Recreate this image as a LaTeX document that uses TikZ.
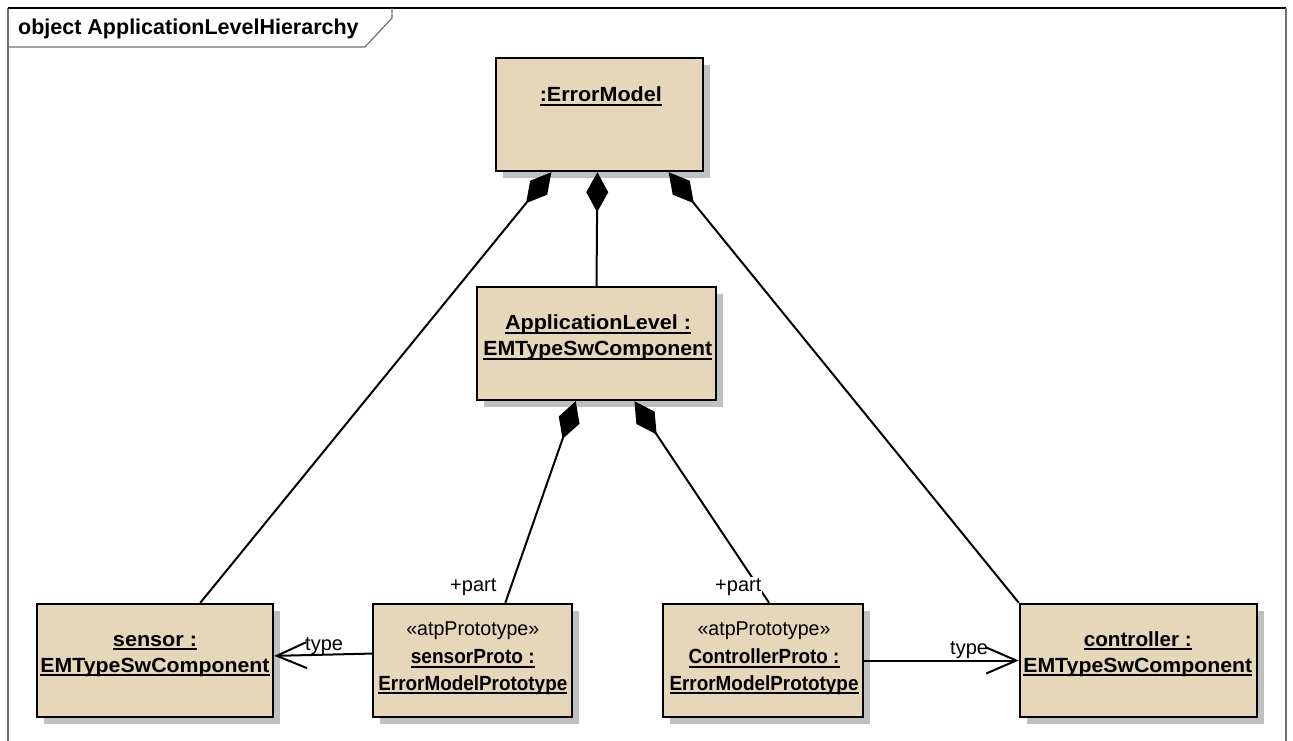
\documentclass[tikz,border=0pt]{standalone}
\usepackage{fontspec}
\usepackage{graphicx}
\setmainfont{Liberation Sans}
\usetikzlibrary{arrows.meta,calc,shadows}

\definecolor{objfill}{HTML}{E6D6BA}
\definecolor{shadowgray}{HTML}{C0C0C0}
\definecolor{framegray}{HTML}{707070}

% fonts for object names, relation labels and the frame title
\newcommand\objfont{\fontsize{20.5pt}{24pt}\selectfont\bfseries}
\newcommand\relfont{\fontsize{20pt}{24pt}\selectfont}
\newcommand\framefont{\fontsize{21.5pt}{25pt}\selectfont\bfseries}
% set a text to a given width, keeping its height
\newcommand\fitw[2]{\resizebox{#1}{\height}{#2}}
% thick underline for instance names
\newcommand\emul[1]{\setbox0\hbox{#1}\rlap{\rule[-4pt]{\wd0}{1.8pt}}\box0}

\tikzset{
  objbox/.style={draw=black, line width=2.4pt, fill=objfill, minimum height=113pt,
    inner sep=0pt,
    drop shadow={shadow xshift=7pt, shadow yshift=-7pt, fill=shadowgray, opacity=1}},
  objtext/.style={anchor=base, inner sep=0pt, font=\objfont},
  stereo/.style={anchor=base, inner sep=0pt, font=\relfont},
  comp/.style={line width=2pt, {Diamond[length=40pt,width=22pt]}-},
  typeof/.style={line width=2pt, -{Straight Barb[length=30pt,width=26pt]}},
  rel/.style={anchor=base west, inner sep=0pt, font=\relfont},
  masked/.style={fill=white, inner sep=1pt}
}

\begin{document}
\begin{tikzpicture}[x=1pt,y=-1pt]
\useasboundingbox (0,0) rectangle (1293,741);
\fill[white] (0,0) rectangle (1293,741);

% diagram frame with its name tab
\draw[framegray, line width=1.5pt] (8,741) -- (8,8);
\draw[black, line width=1.5pt] (8,8) -- (1286,8);
\draw[framegray, line width=2pt] (1286,8) -- (1286,741);
\draw[framegray, line width=1.2pt] (8,47) -- (365,47) -- (392,18) -- (392,8);
\node[anchor=base west, inner sep=0pt, font=\framefont] (title) at (18,35) {object ApplicationLevelHierarchy};

% object instances
\node[objbox, minimum width=207pt] (em)  at (599.5,114.5) {};
\node[objbox, minimum width=239pt] (app) at (596.5,343.5) {};
\node[objbox, minimum width=236pt] (sen) at (155,660.5) {};
\node[objbox, minimum width=199pt] (sp)  at (472.5,660.5) {};
\node[objbox, minimum width=200pt] (cp)  at (763,660.5) {};
\node[objbox, minimum width=237pt] (ctl) at (1138.5,660.5) {};

% compositions
\draw[comp] ($(em.south west)!0.27!(em.south east)$) -- ($(sen.north west)!0.69!(sen.north east)$);
\draw[comp] ($(em.south west)!0.49!(em.south east)$) -- (app.north);
\draw[comp] ($(em.south west)!0.83!(em.south east)$) -- (ctl.north west);
\draw[comp] ($(app.south west)!0.414!(app.south east)$) -- ($(sp.north west)!0.663!(sp.north east)$);
\draw[comp] ($(app.south west)!0.657!(app.south east)$) -- ($(cp.north west)!0.53!(cp.north east)$);

% type links
\draw[typeof] ($(sp.north west)!0.44!(sp.south west)$) -- ($(sen.north east)!0.46!(sen.south east)$);
\draw[typeof] (cp.east) -- (ctl.west);

% connector labels
\node[rel] (sen-type) at (305,650) {type};
\node[rel] (ctl-type) at (950,654) {type};
\node[rel] (sp-part) at (450,591) {+part};
\node[rel, masked] (cp-part) at (714,591) {+part};

% instance names
\node[objtext] (em-t)   at (600.8,101.7) {\emul{\fitw{122pt}{:ErrorModel}}};
\node[objtext] (app-t1) at (598,329.5) {\emul{\fitw{186pt}{ApplicationLevel :}}};
\node[objtext] (app-t2) at (597.8,355.5) {\emul{\fitw{229pt}{EMTypeSwComponent}}};
\node[objtext] (sen-t1) at (155,646) {\emul{\fitw{84pt}{sensor :}}};
\node[objtext] (sen-t2) at (155,672) {\emul{\fitw{229pt}{EMTypeSwComponent}}};
\node[stereo]  (sp-s)   at (472.8,635) {\fitw{133pt}{«atpPrototype»}};
\node[objtext] (sp-t1)  at (472.8,663.5) {\emul{\fitw{124pt}{sensorProto :}}};
\node[objtext] (sp-t2)  at (472.8,690) {\emul{\fitw{189pt}{ErrorModelPrototype}}};
\node[stereo]  (cp-s)   at (764,635) {\fitw{133pt}{«atpPrototype»}};
\node[objtext] (cp-t1)  at (764,663.5) {\emul{\fitw{151pt}{ControllerProto :}}};
\node[objtext] (cp-t2)  at (764,690) {\emul{\fitw{189pt}{ErrorModelPrototype}}};
\node[objtext] (ctl-t1) at (1137.8,646) {\emul{\fitw{108pt}{controller :}}};
\node[objtext] (ctl-t2) at (1137.8,672) {\emul{\fitw{229pt}{EMTypeSwComponent}}};
\end{tikzpicture}
\end{document}
